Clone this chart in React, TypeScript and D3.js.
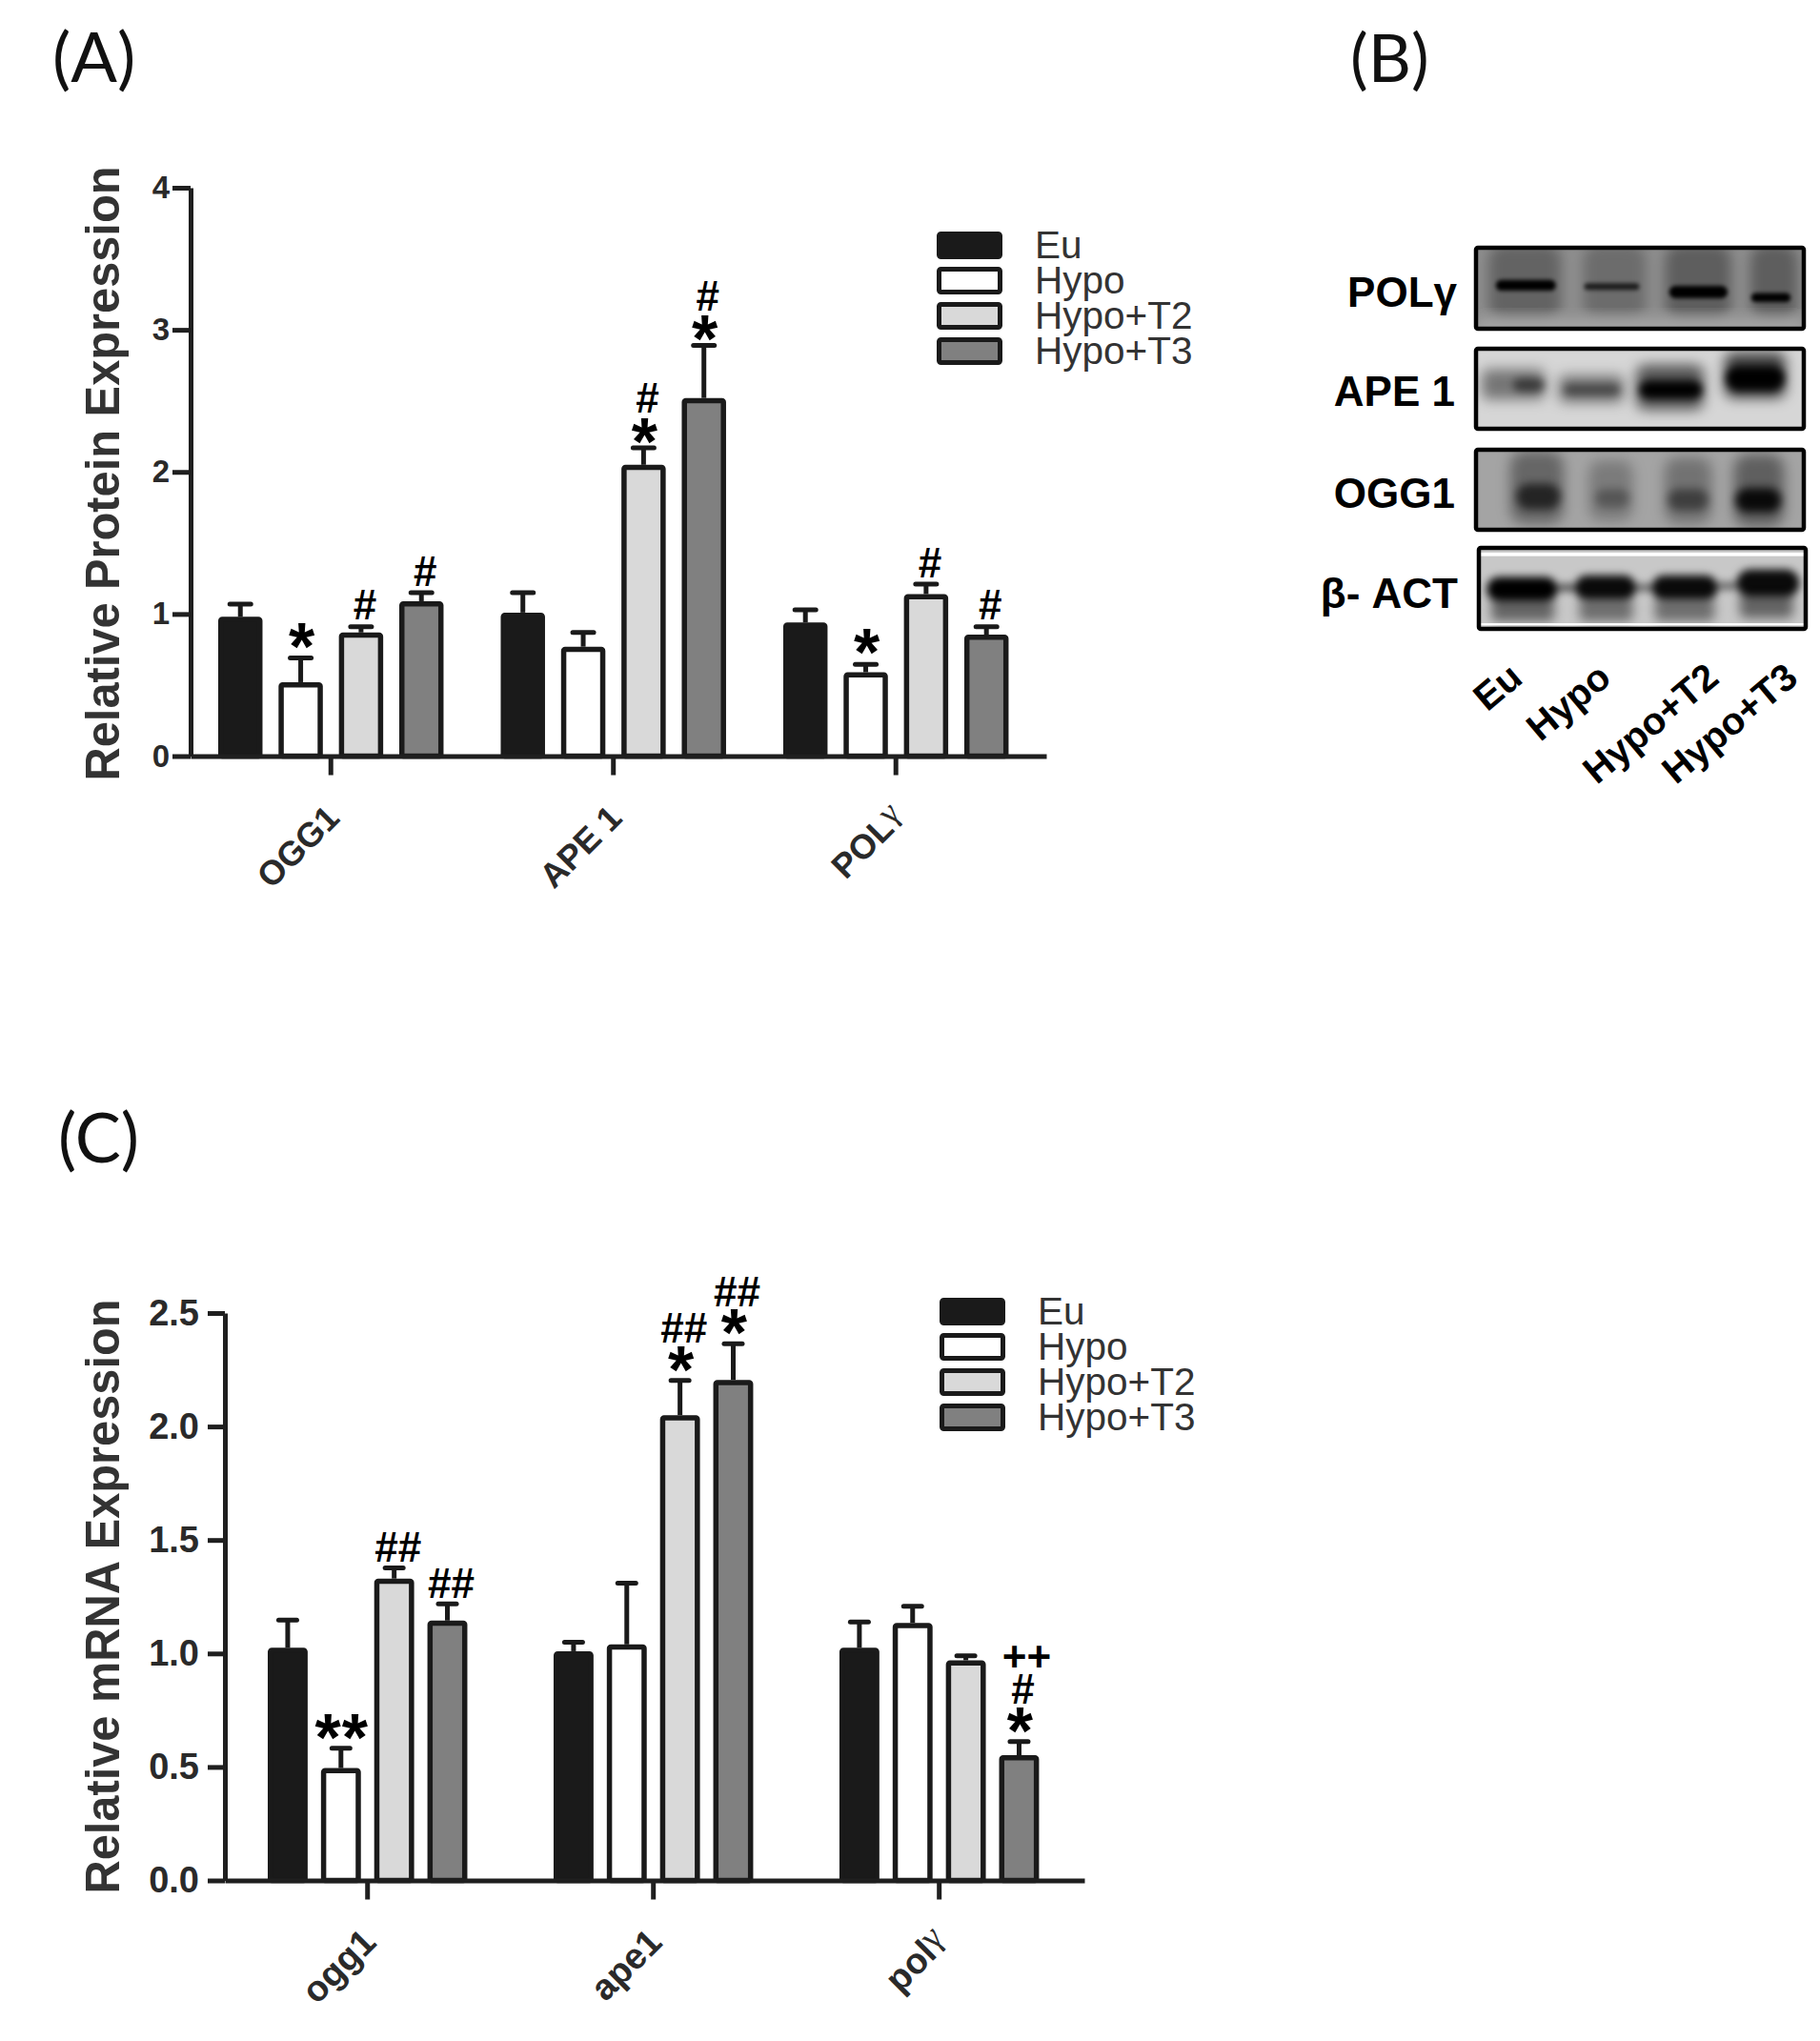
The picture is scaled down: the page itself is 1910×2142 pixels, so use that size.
import * as d3 from 'd3';
import { useRef, useEffect } from 'react';

const series = ['Eu', 'Hypo', 'Hypo+T2', 'Hypo+T3'];
const fills = ['#1a1a1a', '#ffffff', '#d9d9d9', '#808080'];

// Panel A, protein
const proteinGroups = ['OGG1', 'APE 1', 'POLγ'];
const proteinEu = [0.98, 1.01, 0.94];
const proteinHypo = [0.52, 0.77, 0.59];
const proteinT2 = [0.87, 2.05, 1.14];
const proteinT3 = [1.09, 2.52, 0.855];
const proteinEuErr = [1.07, 1.15, 1.03];
const proteinHypoErr = [0.69, 0.87, 0.645];
const proteinT2Err = [0.91, 2.17, 1.21];
const proteinT3Err = [1.15, 2.89, 0.91];
const proteinSig = [
  [[], ['*'], ['#'], ['#']],
  [[], [], ['*', '#'], ['*', '#']],
  [[], ['*'], ['#'], ['#']],
];

// Panel C, mRNA
const mrnaGroups = ['ogg1', 'ape1', 'polγ'];
const mrnaEu = [1.025, 1.01, 1.025];
const mrnaHypo = [0.495, 1.04, 1.135];
const mrnaT2 = [1.33, 2.05, 0.97];
const mrnaT3 = [1.145, 2.205, 0.552];
const mrnaEuErr = [1.147, 1.05, 1.139];
const mrnaHypoErr = [0.583, 1.31, 1.208];
const mrnaT2Err = [1.377, 2.203, 0.99];
const mrnaT3Err = [1.218, 2.365, 0.612];
const mrnaSig = [
  [[], ['**'], ['##'], ['##']],
  [[], [], ['*', '##'], ['*', '##']],
  [[], [], [], ['*', '#', '++']],
];

// Panel B, blot. Bands are [start, end, centre, height, darkness] in blot units
const laneLabels = ['Eu', 'Hypo', 'Hypo+T2', 'Hypo+T3'];
const polHaze = [[40, 270, 115, 250, 0.3], [340, 540, 115, 250, 0.24], [600, 810, 115, 250, 0.34], [870, 1020, 115, 250, 0.34], [0, 1040, 254, 14, -0.6]];
const polCore = [[63, 253, 123, 35, 1], [343, 518, 127, 22, 0.75], [613, 798, 145, 40, 1], [873, 998, 163, 30, 1]];
const apeHaze = [[18, 218, 118, 100, 0.45], [263, 468, 133, 90, 0.45], [508, 723, 128, 150, 0.6], [788, 983, 88, 150, 0.7]];
const apeCore = [[118, 218, 120, 45, 0.5], [278, 458, 136, 35, 0.4], [518, 718, 136, 60, 1], [793, 978, 98, 80, 1]];
const oggHaze = [[108, 278, 125, 240, 0.38], [358, 498, 135, 200, 0.25], [598, 748, 135, 220, 0.3], [818, 978, 135, 240, 0.42]];
const oggCore = [[128, 268, 155, 85, 0.65], [378, 488, 160, 60, 0.3], [608, 738, 165, 70, 0.45], [823, 968, 167, 80, 0.9]];
const actHaze = [[40, 240, 200, 80, 0.5], [320, 490, 200, 80, 0.45], [560, 750, 200, 80, 0.45], [830, 1000, 185, 90, 0.5]];
const actCore = [[25, 250, 135, 80, 1], [305, 500, 130, 80, 0.95], [550, 760, 130, 80, 0.95], [820, 1020, 115, 90, 0.95], [250, 305, 130, 25, 0.6], [500, 550, 130, 25, 0.5], [760, 820, 125, 25, 0.5]];
const actStrips = [[0, 1040, 21, 12, 1], [0, 1040, 250, 7, 1]];

const sans = '"Liberation Sans", Arial, sans-serif';

interface BarPanelProps {
  groups: string[];
  values: number[][];
  errors: number[][];
  sig: string[][][];
  yMax: number;
  ticks: number[];
  tickFormat: (d: number) => string;
  title: string;
  left: number; right: number; top: number; bottom: number;
  padInner: number; padOuter: number; align: number; barPad: number;
  tickFont: number; tickLen: number; tickPad: number; labelFont: number;
  titleCentre: number; titleLength: number;
  capWidth: number; sigStar: number; sigSolo: number; sigHash: number; sigStep: number;
  legendX: number; legendY: [number, number];
}

const markStyle = (m: string) => {
  if (m[0] === '*') return { size: 70, k: 0.47, shift: 1, spacing: m.length > 1 ? 1 : 0 };
  if (m[0] === '+') return { size: 44, k: 0.33, shift: 8, spacing: 0 };
  return { size: 44, k: 0.33, shift: 4, spacing: 0 };
};

const BarPanel = (p: BarPanelProps) => {
  const xAxisRef = useRef<SVGGElement>(null);
  const yAxisRef = useRef<SVGGElement>(null);

  const x = d3.scaleBand<string>()
    .domain(p.groups)
    .range([p.left, p.right])
    .paddingInner(p.padInner)
    .paddingOuter(p.padOuter)
    .align(p.align);
  const xInner = d3.scaleBand<string>()
    .domain(series)
    .range([0, x.bandwidth()])
    .paddingInner(p.barPad);
  const y = d3.scaleLinear().domain([0, p.yMax]).range([p.bottom, p.top]);
  const legendY = d3.scalePoint<string>().domain(series).range(p.legendY);

  useEffect(() => {
    const yAxis = d3.select(yAxisRef.current!);
    yAxis.call(d3.axisLeft(y).tickValues(p.ticks).tickFormat(p.tickFormat as any).tickSizeInner(p.tickLen).tickSizeOuter(0).tickPadding(p.tickPad));
    yAxis.selectAll('line,path').attr('stroke', '#1f1f1f').attr('stroke-width', 5);
    yAxis.selectAll('text')
      .attr('font-family', sans).attr('font-weight', 'bold').attr('font-size', p.tickFont).attr('fill', '#2a2a2a');

    const xAxis = d3.select(xAxisRef.current!);
    xAxis.call(d3.axisBottom(x).tickSizeInner(20).tickSizeOuter(0));
    xAxis.selectAll('line,path').attr('stroke', '#1f1f1f').attr('stroke-width', 5);
    xAxis.selectAll<SVGTextElement, string>('text')
      .attr('font-family', sans).attr('font-weight', 'bold')
      .attr('font-size', p.labelFont).attr('fill', '#2a2a2a')
      .attr('text-anchor', 'end')
      .attr('x', 0).attr('y', 0).attr('dy', 0)
      .attr('transform', 'translate(11,67) rotate(-45)')
      .each(function (d) {
        if (d.endsWith('γ')) {
          const t = d3.select(this).text(d.slice(0, -1));
          t.append('tspan')
            .attr('font-family', '"Liberation Serif", serif')
            .attr('font-weight', 'normal')
            .attr('dy', -7)
            .text('γ');
        }
      });
  }, []);

  const strokeW = 5.5;

  return (
    <g>
      <text
        transform={`translate(125,${p.titleCentre}) rotate(-90)`}
        textAnchor="middle" fontFamily={sans} fontWeight="bold" fontSize={50} fill="#333"
        textLength={p.titleLength} lengthAdjust="spacingAndGlyphs"
      >{p.title}</text>
      {p.groups.map((g, i) => (
        <g key={g} transform={`translate(${x(g)},0)`}>
          {series.map((s, j) => {
            const bx = xInner(s)!;
            const w = xInner.bandwidth();
            const cx = bx + w / 2;
            const top = y(p.values[j][i]);
            const errTop = y(p.errors[j][i]);
            const stack = p.sig[i][j];
            const first = stack[0]?.[0] === '*' ? (stack.length === 1 ? p.sigSolo : p.sigStar) : p.sigHash;
            return (
              <g key={s}>
                <line x1={cx} x2={cx} y1={top} y2={errTop} stroke="#1a1a1a" strokeWidth={5} />
                <line x1={cx - p.capWidth / 2 + 2} x2={cx + p.capWidth / 2 - 2} y1={errTop} y2={errTop} stroke="#1a1a1a" strokeWidth={5} strokeLinecap="round" />
                <rect
                  x={bx + strokeW / 2} y={top + strokeW / 2}
                  width={w - strokeW} height={y(0) - top - strokeW / 2}
                  rx={1.5}
                  fill={fills[j]} stroke="#1a1a1a" strokeWidth={strokeW}
                />
                {stack.map((m, k) => {
                  const st = markStyle(m);
                  const offset = first + k * p.sigStep;
                  return (
                    <text key={k} x={cx + st.shift} y={errTop - offset + st.k * st.size} textAnchor="middle"
                      fontFamily={sans} fontWeight="bold" fontSize={st.size} letterSpacing={st.spacing} fill="#000">{m}</text>
                  );
                })}
              </g>
            );
          })}
        </g>
      ))}
      <g ref={yAxisRef} transform={`translate(${p.left},0)`} />
      <g ref={xAxisRef} transform={`translate(0,${p.bottom})`} />
      {series.map((s, j) => (
        <g key={s} transform={`translate(${p.legendX},${legendY(s)})`}>
          <rect x={2.5} y={2.5} width={64} height={24} rx={2} fill={fills[j]} stroke="#1a1a1a" strokeWidth={5} />
          <text x={103} y={28} fontFamily={sans} fontSize={40.5} fill="#333">{s}</text>
        </g>
      ))}
    </g>
  );
};

const BlotRow = ({ id, x0, x1, y0, y1, bg, haze, core, strips = [], hazeBlur, coreBlur }: any) => {
  const bx = d3.scaleLinear().domain([0, 1040]).range([x0, x1]);
  const by = d3.scaleLinear().domain([0, 265]).range([y0, y1]);
  const draw = (list: number[][], filter: string, round: number, colour?: string) => (
    <g filter={filter}>
      {list.map((b, i) => (
        <rect key={i} x={bx(b[0])} width={bx(b[1]) - bx(b[0])}
          y={by(b[2] - b[3] / 2)} height={by(b[3]) - by(0)}
          rx={(by(b[3]) - by(0)) * round}
          fill={colour ?? (b[4] < 0 ? '#fff' : '#000')} opacity={Math.abs(b[4])} />
      ))}
    </g>
  );
  return (
    <g>
      <defs>
        <filter id={`${id}H`} x="-30%" y="-50%" width="160%" height="200%"><feGaussianBlur stdDeviation={hazeBlur} /></filter>
        <filter id={`${id}C`} x="-30%" y="-80%" width="160%" height="260%"><feGaussianBlur stdDeviation={coreBlur} /></filter>
      </defs>
      <clipPath id={id}><rect x={x0} y={y0} width={x1 - x0} height={y1 - y0} /></clipPath>
      <g clipPath={`url(#${id})`}>
        <rect x={x0} y={y0} width={x1 - x0} height={y1 - y0} fill={bg} />
        {draw(haze, `url(#${id}H)`, 0.2)}
        {draw(core, `url(#${id}C)`, 0.5)}
        {draw(strips, '', 0, '#fff')}
      </g>
      <rect x={x0} y={y0} width={x1 - x0} height={y1 - y0} rx={2} fill="none" stroke="#000" strokeWidth={4.5} />
    </g>
  );
};

// the lane labels are not evenly spaced in the figure
const laneEnd: Record<string, number> = { Eu: 1600, Hypo: 1693, 'Hypo+T2': 1806, 'Hypo+T3': 1889 };

const BlotPanel = () => {
  const rowLabel = { fontFamily: sans, fontWeight: 'bold', fontSize: 44, fill: '#000', textAnchor: 'end' } as const;
  return (
    <g>
      <BlotRow id="pol" x0={1549} x1={1893} y0={260} y1={345} bg="#8e8e8e" haze={polHaze} core={polCore} hazeBlur={7} coreBlur={2.2} />
      <BlotRow id="ape" x0={1549} x1={1893} y0={366} y1={450} bg="#d6d6d6" haze={apeHaze} core={apeCore} hazeBlur={7} coreBlur={4} />
      <BlotRow id="ogg" x0={1549} x1={1893} y0={472} y1={556} bg="#a4a4a4" haze={oggHaze} core={oggCore} hazeBlur={7} coreBlur={5} />
      <BlotRow id="act" x0={1552} x1={1895} y0={575} y1={660} bg="#c8c8c8" haze={actHaze} core={actCore} strips={actStrips} hazeBlur={6} coreBlur={4} />
      <text x={1529} y={322} {...rowLabel}>POLγ</text>
      <text x={1527} y={426} {...rowLabel}>APE 1</text>
      <text x={1527} y={533} {...rowLabel}>OGG1</text>
      <text x={1530} y={638} {...rowLabel}>β- ACT</text>
      {laneLabels.map(l => (
        <text key={l} transform={`translate(${laneEnd[l]},${715}) rotate(-40)`} {...rowLabel} fontSize={40}>{l}</text>
      ))}
    </g>
  );
};

const App = () => {
  const panelLabel = { fontFamily: 'Lato, sans-serif', fontSize: 72, fill: '#111' };
  return (
    <svg width={1910} height={2142} style={{ position: 'absolute', left: 0, top: 0, background: '#fff' }}>
      <text x={55} y={86} {...panelLabel}>(A)</text>
      <text x={1417} y={86} {...panelLabel} fontSize={70}>(B)</text>
      <text x={61} y={1220} {...panelLabel}>(C)</text>
      <BarPanel
        groups={proteinGroups}
        values={[proteinEu, proteinHypo, proteinT2, proteinT3]}
        errors={[proteinEuErr, proteinHypoErr, proteinT2Err, proteinT3Err]}
        sig={proteinSig} yMax={4} ticks={[0, 1, 2, 3, 4]} tickFormat={d3.format('d')}
        title="Relative Protein Expression"
        left={200} right={1098} top={197} bottom={793.5}
        padInner={0.2024} padOuter={0.1156} align={0.423} barPad={0.266}
        tickFont={33} tickLen={19} tickPad={3} labelFont={36}
        titleCentre={497} titleLength={645}
        capWidth={26} sigStar={15} sigSolo={21} sigHash={22} sigStep={36}
        legendX={983} legendY={[243, 354]}
      />
      <BlotPanel />
      <BarPanel
        groups={mrnaGroups}
        values={[mrnaEu, mrnaHypo, mrnaT2, mrnaT3]}
        errors={[mrnaEuErr, mrnaHypoErr, mrnaT2Err, mrnaT3Err]}
        sig={mrnaSig} yMax={2.5} ticks={[0, 0.5, 1, 1.5, 2, 2.5]} tickFormat={d3.format('.1f')}
        title="Relative mRNA Expression"
        left={236} right={1138} top={1378} bottom={1973.5}
        padInner={0.3017} padOuter={0.1543} align={0.486} barPad={0.25}
        tickFont={38} tickLen={18} tickPad={9} labelFont={38}
        titleCentre={1675.5} titleLength={624}
        capWidth={23} sigStar={20} sigSolo={20} sigHash={21} sigStep={34}
        legendX={986} legendY={[1362, 1473]}
      />
    </svg>
  );
};

export default App;
